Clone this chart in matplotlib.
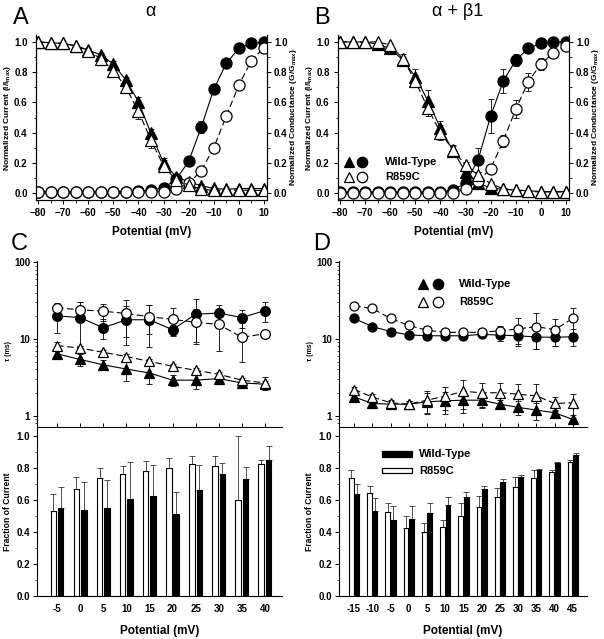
import numpy as np
import matplotlib.pyplot as plt
from matplotlib.ticker import MultipleLocator, FixedLocator, LogLocator, NullFormatter, FormatStrFormatter
from matplotlib.patches import Rectangle

plt.rcParams['font.family'] = ['Liberation Sans', 'DejaVu Sans']
plt.rcParams['font.weight'] = 'bold'
plt.rcParams['axes.labelweight'] = 'bold'
plt.rcParams['axes.linewidth'] = 0.8

# ---------------- data: A / B (steady-state inactivation + activation)
v_ab = [-80, -75, -70, -65, -60, -55, -50, -45, -40, -35, -30, -25, -20, -15, -10, -5, 0, 5, 10]

a_inact_wt = [1.0, 0.995, 0.99, 0.975, 0.947, 0.914, 0.854, 0.748, 0.605, 0.395, 0.20, 0.108, 0.075,
              0.048, 0.031, 0.025, 0.03, 0.03, 0.03]
a_inact_wt_err = [0, 0, 0, 0, 0.01, 0.01, 0.02, 0.02, 0.03, 0.03, 0.03, 0.02, 0.01, 0.01, 0, 0, 0, 0, 0]
a_inact_mut = [1.0, 0.995, 0.99, 0.975, 0.94, 0.89, 0.81, 0.70, 0.54, 0.35, 0.18, 0.086, 0.053,
               0.025, 0.018, 0.018, 0.02, 0.018, 0.018]
a_inact_mut_err = [0, 0, 0, 0, 0.01, 0.02, 0.03, 0.04, 0.05, 0.05, 0.04, 0.02, 0.01, 0, 0, 0, 0, 0, 0]
a_act_wt = [0.01, 0.01, 0.01, 0.01, 0.01, 0.01, 0.01, 0.01, 0.012, 0.02, 0.035, 0.09, 0.21,
            0.435, 0.687, 0.859, 0.958, 0.99, 1.0]
a_act_wt_err = [0, 0, 0, 0, 0, 0, 0, 0, 0, 0, 0, 0.01, 0.015, 0.04, 0.03, 0.01, 0, 0, 0]
a_act_mut = [0.005, 0.005, 0.005, 0.005, 0.005, 0.005, 0.005, 0.005, 0.005, 0.005, 0.01, 0.03, 0.064,
             0.148, 0.30, 0.51, 0.715, 0.876, 0.962]
a_act_mut_err = [0, 0, 0, 0, 0, 0, 0, 0, 0, 0, 0, 0, 0.01, 0.01, 0.01, 0.01, 0.01, 0, 0]

b_inact_wt = [1.0, 1.0, 1.0, 0.985, 0.957, 0.88, 0.77, 0.61, 0.43, 0.28, 0.14, 0.066, 0.033,
              0.025, 0.02, 0.015, 0.01, 0.01, 0.01]
b_inact_wt_err = [0, 0, 0, 0, 0.01, 0.02, 0.05, 0.07, 0.05, 0.03, 0.02, 0.01, 0, 0, 0, 0, 0, 0, 0]
b_inact_mut = [1.0, 1.0, 1.0, 1.0, 0.98, 0.89, 0.74, 0.56, 0.40, 0.285, 0.185, 0.117, 0.062,
               0.029, 0.018, 0.011, 0.007, 0.007, 0.007]
b_inact_mut_err = [0, 0, 0, 0, 0.01, 0.03, 0.04, 0.05, 0.05, 0.03, 0.02, 0.02, 0.01, 0, 0, 0, 0, 0, 0]
b_act_wt = [0.005, 0.005, 0.005, 0.005, 0.005, 0.005, 0.005, 0.005, 0.005, 0.02, 0.066, 0.22, 0.51,
            0.74, 0.88, 0.957, 0.99, 1.0, 1.0]
b_act_wt_err = [0, 0, 0, 0, 0, 0, 0, 0, 0, 0, 0.01, 0.08, 0.11, 0.08, 0.04, 0.01, 0, 0, 0]
b_act_mut = [0.003, 0.003, 0.003, 0.003, 0.003, 0.003, 0.003, 0.003, 0.003, 0.003, 0.03, 0.08, 0.16,
             0.345, 0.555, 0.737, 0.854, 0.928, 0.975]
b_act_mut_err = [0, 0, 0, 0, 0, 0, 0, 0, 0, 0, 0.01, 0.02, 0.03, 0.04, 0.06, 0.06, 0.04, 0.02, 0.01]

ab_xticks = [-80, -70, -60, -50, -40, -30, -20, -10, 0, 10]

# ---------------- data: C (alpha) time constants + fractions
v_c = [-5, 0, 5, 10, 15, 20, 25, 30, 35, 40]
c_slow_wt = [20.0, 19.0, 14.0, 17.8, 17.8, 13.2, 21.0, 21.8, 19.0, 23.5]
c_slow_wt_err = [8, 11, 4, 9.5, 10, 2, 12, 6, 5, 7]
c_slow_mut = [25.5, 24.0, 23.0, 21.5, 19.5, 18.0, 16.5, 15.5, 10.5, 11.7]
c_slow_mut_err = [4, 6, 6, 11, 8, 7, 8, 8.5, 5.5, 1]
c_fast_wt = [6.4, 5.4, 4.6, 4.05, 3.6, 2.9, 2.9, 3.04, 2.67, 2.57]
c_fast_wt_err = [1.0, 1.0, 0.7, 1.2, 1.0, 0.5, 0.7, 0.25, 0.15, 0.3]
c_fast_mut = [8.2, 7.6, 6.7, 5.9, 5.1, 4.4, 3.9, 3.46, 2.9, 2.67]
c_fast_mut_err = [1.0, 0.5, 0.4, 0.5, 0.4, 0.3, 0.3, 0.3, 0.2, 0.5]

c_frac_mut = [0.53, 0.67, 0.74, 0.76, 0.78, 0.80, 0.825, 0.81, 0.60, 0.825]
c_frac_mut_err = [0.11, 0.075, 0.06, 0.055, 0.065, 0.06, 0.052, 0.065, 0.40, 0.025]
c_frac_wt = [0.55, 0.54, 0.55, 0.606, 0.625, 0.515, 0.66, 0.76, 0.73, 0.85]
c_frac_wt_err = [0.13, 0.17, 0.175, 0.234, 0.195, 0.135, 0.16, 0.07, 0.075, 0.085]

# ---------------- data: D (alpha + beta1)
v_d = [-15, -10, -5, 0, 5, 10, 15, 20, 25, 30, 35, 40, 45]
d_slow_wt = [18.5, 14.5, 12.5, 11.3, 11.0, 11.0, 11.0, 11.5, 11.2, 11.0, 10.6, 10.5, 10.7]
d_slow_wt_err = [1, 0.8, 0.5, 0.6, 0.8, 0.8, 0.8, 1, 1.7, 2.8, 3.2, 2.5, 2.6]
d_slow_mut = [27, 25, 18.5, 15, 13, 12.2, 12.2, 12.2, 12.8, 13.5, 14.5, 13.2, 18.5]
d_slow_mut_err = [1.5, 1.5, 1.2, 1.5, 1.2, 1.0, 1.2, 1.5, 2, 5, 7, 5, 6.5]
d_fast_wt = [1.75, 1.44, 1.41, 1.41, 1.51, 1.56, 1.59, 1.59, 1.41, 1.28, 1.18, 1.09, 0.89]
d_fast_wt_err = [0.15, 0.15, 0.15, 0.15, 0.45, 0.5, 0.5, 0.35, 0.2, 0.25, 0.3, 0.1, 0.05]
d_fast_mut = [2.19, 1.75, 1.47, 1.41, 1.59, 1.79, 2.08, 1.98, 1.99, 1.90, 1.81, 1.44, 1.47]
d_fast_mut_err = [0.2, 0.15, 0.15, 0.15, 0.5, 0.6, 0.85, 0.7, 0.7, 0.7, 0.75, 0.3, 0.45]

d_frac_mut = [0.74, 0.645, 0.527, 0.427, 0.40, 0.43, 0.50, 0.555, 0.62, 0.68, 0.74, 0.775, 0.84]
d_frac_mut_err = [0.05, 0.045, 0.053, 0.07, 0.055, 0.045, 0.08, 0.07, 0.053, 0.065, 0.05, 0.015, 0.01]
d_frac_wt = [0.64, 0.53, 0.475, 0.483, 0.517, 0.566, 0.617, 0.668, 0.713, 0.745, 0.79, 0.833, 0.88]
d_frac_wt_err = [0.06, 0.085, 0.085, 0.077, 0.066, 0.051, 0.035, 0.022, 0.017, 0.013, 0.005, 0.002, 0.015]

W, H = 604, 639
fig = plt.figure(figsize=(W / 100, H / 100), dpi=100)


def add_ax(left, top, right, bottom):
    # axes placed in pixel units of the original picture
    return fig.add_axes([left / W, 1 - bottom / H, (right - left) / W, (bottom - top) / H])


DASH = (0, (6, 3))


def series(ax, x, y, err, marker, filled, dashed, ms, log=False):
    y = np.asarray(y, float)
    err = np.asarray(err, float)
    lo = np.minimum(err, y * 0.6) if log else err
    ax.errorbar(x, y, yerr=[lo, err], fmt='none', ecolor='black', elinewidth=0.6,
                capsize=2, capthick=0.6, zorder=2)
    ax.plot(x, y, color='black', lw=0.8, ls=DASH if dashed else '-', marker=marker, ms=ms,
            mfc='black' if filled else 'white', mec='black', mew=0.9,
            zorder=3 if filled else 4)


def iv_panel(ax, inact_wt, inact_wt_err, inact_mut, inact_mut_err,
             act_wt, act_wt_err, act_mut, act_mut_err, lab_x):
    series(ax, v_ab, act_mut, act_mut_err, 'o', False, True, 8)
    series(ax, v_ab, inact_mut, inact_mut_err, '^', False, True, 8)
    series(ax, v_ab, inact_wt, inact_wt_err, '^', True, False, 8)
    series(ax, v_ab, act_wt, act_wt_err, 'o', True, False, 8)
    ax.set_xlim(-80.8, 11.2)
    ax.set_ylim(-0.046, 1.046)
    ax.spines['top'].set_visible(False)
    ax.xaxis.set_major_locator(FixedLocator(ab_xticks))
    ax.xaxis.set_minor_locator(MultipleLocator(5))
    ax.yaxis.set_major_locator(MultipleLocator(0.2))
    ax.yaxis.set_minor_locator(MultipleLocator(0.1))
    ax.yaxis.set_major_formatter(FormatStrFormatter('%.1f'))
    ax.tick_params(which='major', direction='out', length=3, width=0.7, labelsize=7, pad=3)
    ax.tick_params(which='minor', direction='out', length=1.8, width=0.6)
    ax.set_xlabel('Potential (mV)', fontsize=8.5)
    ax.xaxis.set_label_coords(0.5, -0.155)
    ax.set_ylabel('Normalized Current (I/I$_\\mathregular{max}$)', fontsize=6)
    ax.yaxis.set_label_coords(lab_x, 0.5)
    ax2 = ax.twinx()
    ax2.set_ylim(ax.get_ylim())
    ax2.spines['top'].set_visible(False)
    ax2.yaxis.set_major_locator(MultipleLocator(0.2))
    ax2.yaxis.set_minor_locator(MultipleLocator(0.1))
    ax2.yaxis.set_major_formatter(FormatStrFormatter('%.1f'))
    ax2.tick_params(which='major', direction='out', length=3, width=0.7, labelsize=7, pad=2)
    ax2.tick_params(which='minor', direction='out', length=1.8, width=0.6)
    ax2.set_ylabel('Normalized Conductance (G/G$_\\mathregular{max}$)', fontsize=6)
    ax2.yaxis.set_label_coords(1.093, 0.5)


def tau_panel(ax, v, slow_wt, slow_wt_err, slow_mut, slow_mut_err,
              fast_wt, fast_wt_err, fast_mut, fast_mut_err, xlim, ms):
    series(ax, v, slow_mut, slow_mut_err, 'o', False, True, ms, log=True)
    series(ax, v, fast_mut, fast_mut_err, '^', False, True, ms, log=True)
    series(ax, v, slow_wt, slow_wt_err, 'o', True, False, ms, log=True)
    series(ax, v, fast_wt, fast_wt_err, '^', True, False, ms, log=True)
    ax.set_yscale('log')
    ax.set_ylim(0.71, 104)
    ax.set_xlim(*xlim)
    ax.spines['top'].set_visible(False)
    ax.spines['right'].set_visible(False)
    ax.set_xticks(v)
    ax.tick_params(axis='x', which='major', direction='in', length=3, width=0.7, labelbottom=False)
    ax.yaxis.set_major_locator(FixedLocator([1, 10, 100]))
    ax.yaxis.set_major_formatter(FormatStrFormatter('%d'))
    ax.yaxis.set_minor_locator(LogLocator(subs=np.arange(2, 10)))
    ax.yaxis.set_minor_formatter(NullFormatter())
    ax.tick_params(axis='y', which='major', direction='out', length=3, width=0.7, labelsize=7, pad=2)
    ax.tick_params(axis='y', which='minor', direction='out', length=1.6, width=0.5)
    ax.set_ylabel('τ (ms)', fontsize=5)
    ax.yaxis.set_label_coords(-0.1, 0.46)


def frac_panel(ax, v, frac_mut, frac_mut_err, frac_wt, frac_wt_err, xlim, width, off):
    v = np.asarray(v, float)
    ax.bar(v - off, frac_mut, width, color='white', edgecolor='black', lw=0.8, zorder=2)
    ax.bar(v + off, frac_wt, width, color='black', edgecolor='black', lw=0.8, zorder=2)
    ax.errorbar(v - off, frac_mut, yerr=[np.zeros(len(v)), frac_mut_err], fmt='none',
                ecolor='#333333', elinewidth=0.6, capsize=2, capthick=0.6, zorder=1)
    ax.errorbar(v + off, frac_wt, yerr=[np.zeros(len(v)), frac_wt_err], fmt='none',
                ecolor='#333333', elinewidth=0.6, capsize=2, capthick=0.6, zorder=1)
    ax.set_xlim(*xlim)
    ax.set_ylim(0, 1.05)
    ax.spines['top'].set_visible(False)
    ax.spines['right'].set_visible(False)
    ax.set_xticks(v)
    ax.set_xticklabels([str(int(t)) for t in v])
    ax.tick_params(axis='x', length=0, labelsize=7, pad=6)
    ax.yaxis.set_major_locator(MultipleLocator(0.2))
    ax.yaxis.set_minor_locator(MultipleLocator(0.1))
    ax.yaxis.set_major_formatter(FormatStrFormatter('%.1f'))
    ax.tick_params(axis='y', which='major', direction='out', length=3, width=0.7, labelsize=7, pad=2)
    ax.tick_params(axis='y', which='minor', direction='out', length=1.6, width=0.5)
    ax.set_xlabel('Potential (mV)', fontsize=8.5)
    ax.xaxis.set_label_coords(0.5, -0.17)
    ax.set_ylabel('Fraction of Current', fontsize=6.2)
    ax.yaxis.set_label_coords(-0.1, 0.5)


def marker_legend(ax, x_tri, x_circ, x_txt, y_rows, ms):
    for (filled, label), yy in zip([(True, 'Wild-Type'), (False, 'R859C')], y_rows):
        fc = 'black' if filled else 'white'
        ax.plot([x_tri], [yy], marker='^', ms=ms, mfc=fc, mec='black', mew=0.9,
                transform=ax.transAxes, clip_on=False, ls='none')
        ax.plot([x_circ], [yy], marker='o', ms=ms, mfc=fc, mec='black', mew=0.9,
                transform=ax.transAxes, clip_on=False, ls='none')
        ax.text(x_txt, yy, label, transform=ax.transAxes, fontsize=8, va='center', ha='left')


# ---- A
axA = add_ax(36, 35, 267, 200)
iv_panel(axA, a_inact_wt, a_inact_wt_err, a_inact_mut, a_inact_mut_err,
         a_act_wt, a_act_wt_err, a_act_mut, a_act_mut_err, -0.098)

# ---- B
axB = add_ax(338, 35, 569, 200)
iv_panel(axB, b_inact_wt, b_inact_wt_err, b_inact_mut, b_inact_mut_err,
         b_act_wt, b_act_wt_err, b_act_mut, b_act_mut_err, -0.1)
marker_legend(axB, 0.048, 0.104, 0.203, [0.23, 0.139], 7.5)

# ---- C
axC1 = add_ax(37, 261, 282, 427)
tau_panel(axC1, v_c, c_slow_wt, c_slow_wt_err, c_slow_mut, c_slow_mut_err,
          c_fast_wt, c_fast_wt_err, c_fast_mut, c_fast_mut_err, (-9.33, 43.7), 7)
axC2 = add_ax(37, 428, 282, 596)
frac_panel(axC2, v_c, c_frac_mut, c_frac_mut_err, c_frac_wt, c_frac_wt_err, (-9.33, 43.7), 1.2, 0.8)

# ---- D
axD1 = add_ax(339, 261, 587, 427)
tau_panel(axD1, v_d, d_slow_wt, d_slow_wt_err, d_slow_mut, d_slow_mut_err,
          d_fast_wt, d_fast_wt_err, d_fast_mut, d_fast_mut_err, (-19.15, 48.9), 6.5)
marker_legend(axD1, 0.339, 0.399, 0.484, [0.861, 0.753], 7.5)
axD2 = add_ax(339, 428, 587, 596)
frac_panel(axD2, v_d, d_frac_mut, d_frac_mut_err, d_frac_wt, d_frac_wt_err, (-19.15, 48.9), 1.3, 0.75)
for (fc, label), yy in zip([('black', 'Wild-Type'), ('white', 'R859C')], [0.845, 0.746]):
    axD2.add_patch(Rectangle((0.173, yy - 0.016), 0.121, 0.032, transform=axD2.transAxes,
                             facecolor=fc, edgecolor='black', lw=0.9, clip_on=False))
    axD2.text(0.323, yy, label, transform=axD2.transAxes, fontsize=8, va='center', ha='left')

# ---- panel letters and titles
for txt, x, y in [('A', 21, 18), ('B', 322, 18), ('C', 19, 244), ('D', 322, 244)]:
    fig.text(x / W, 1 - y / H, txt, fontsize=17, fontweight='normal', ha='center', va='center')
fig.text(150 / W, 1 - 12 / H, 'α', fontsize=13, fontweight='normal', ha='center', va='center')
fig.text(458 / W, 1 - 12 / H, 'α + β1', fontsize=13, fontweight='normal', ha='center', va='center')

fig.savefig('out.png', dpi=100)
